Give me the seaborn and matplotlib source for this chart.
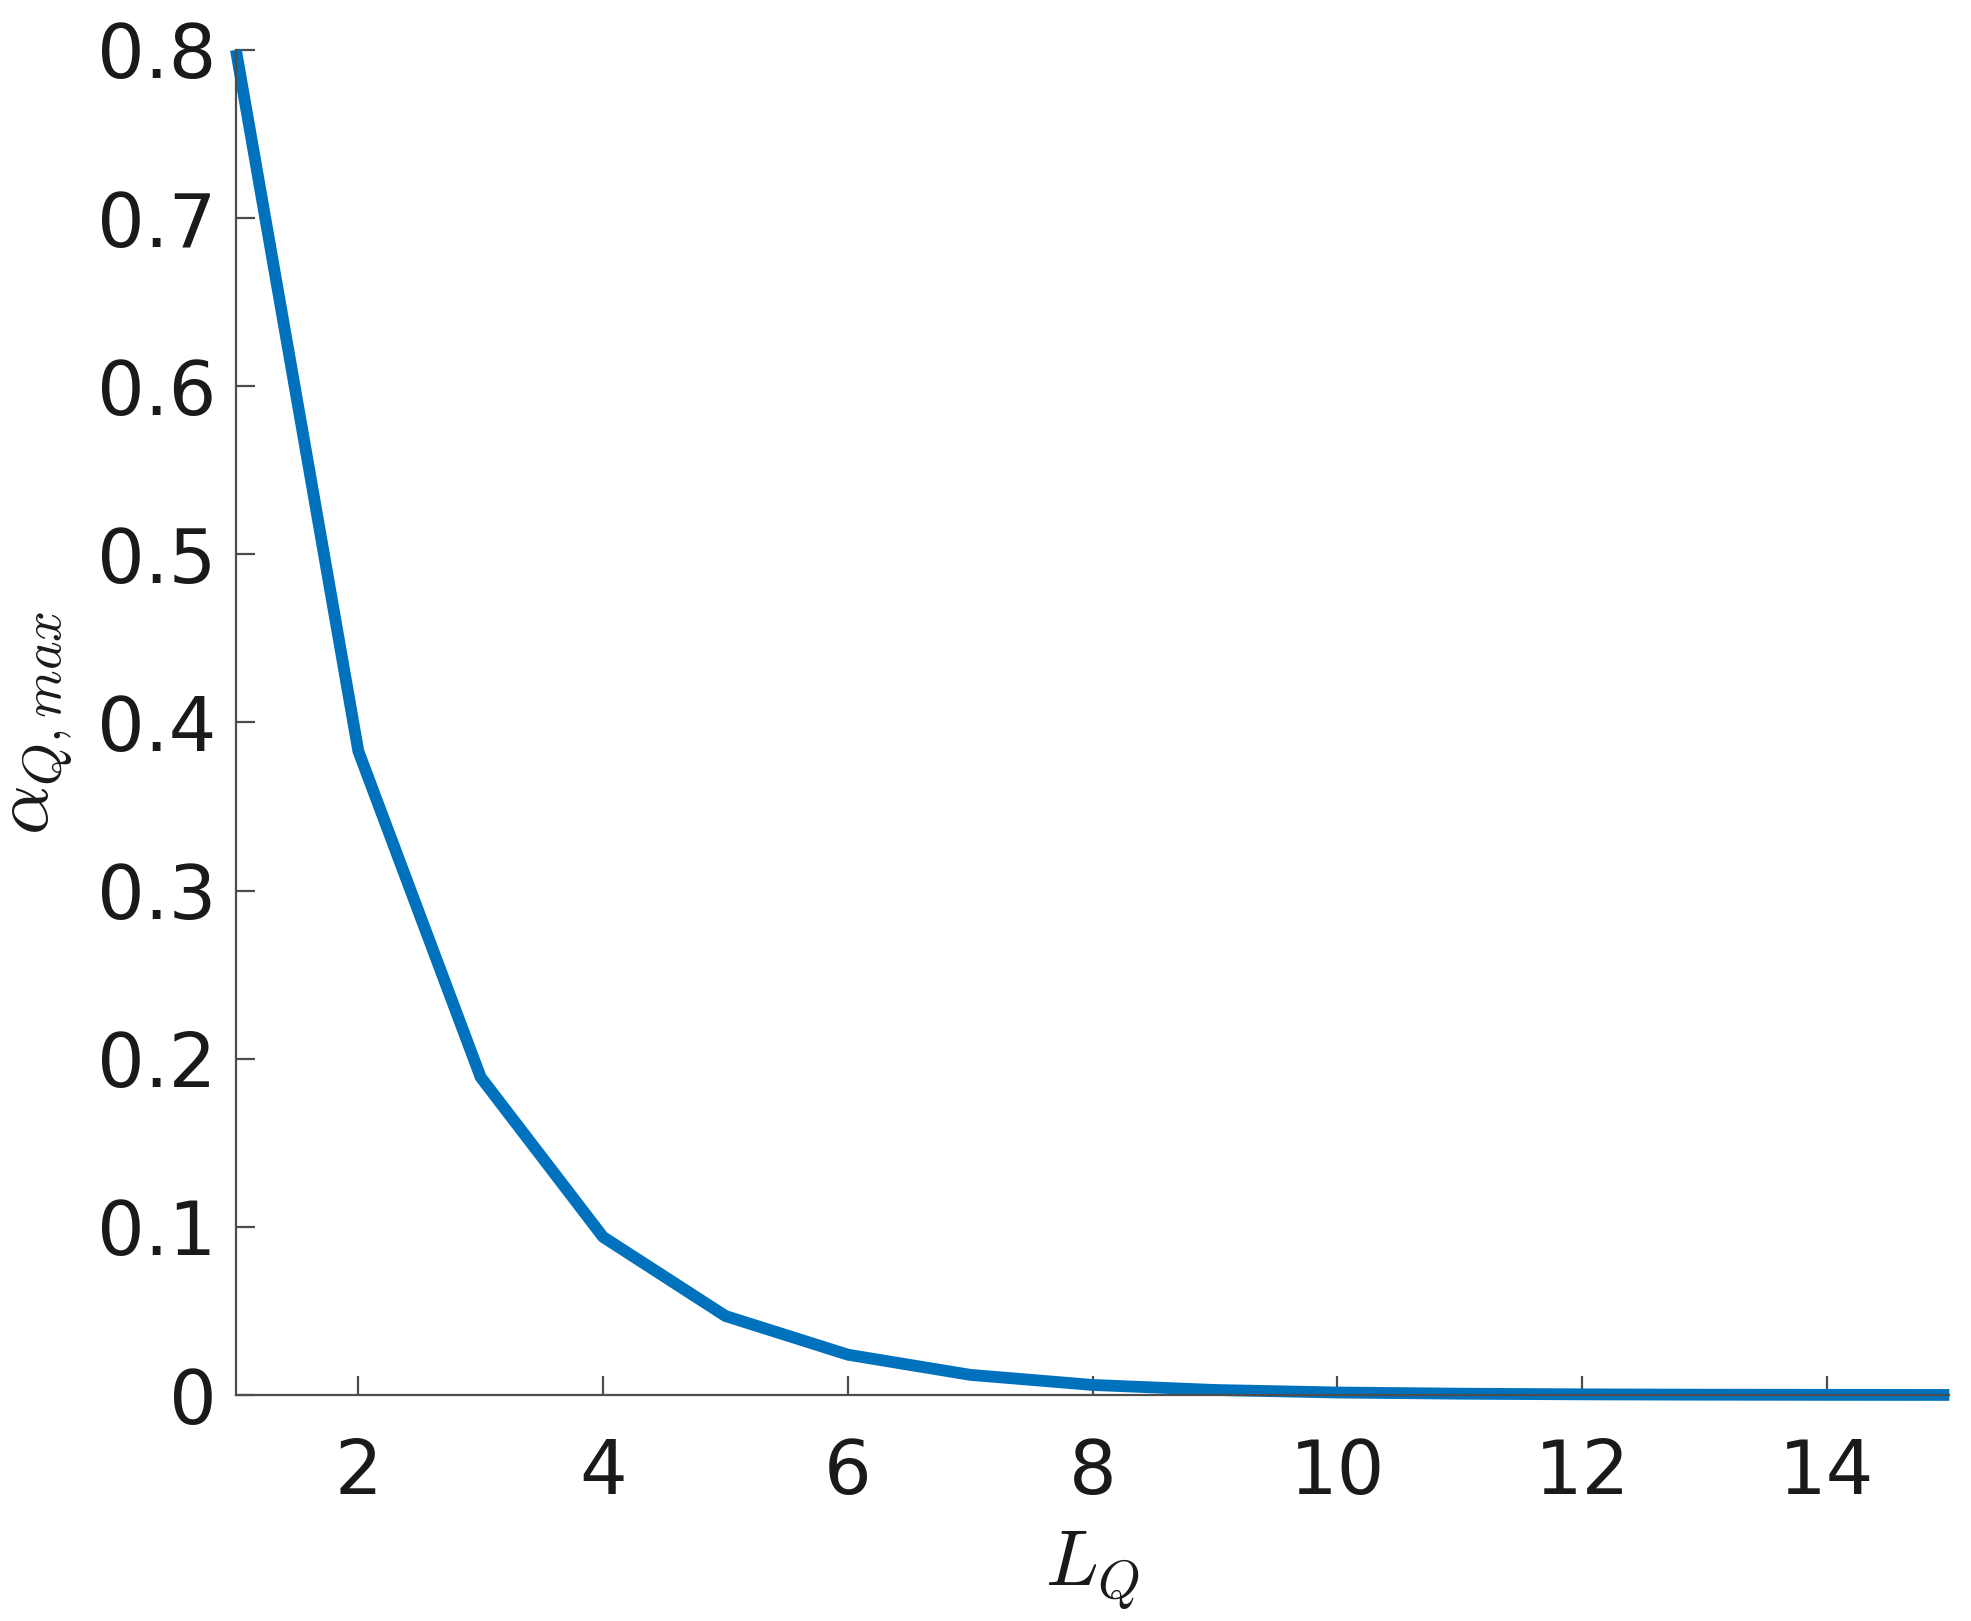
import pandas as pd
import seaborn as sns
import matplotlib.pyplot as plt

# values
L_Q = [1, 2, 3, 4, 5, 6, 7, 8, 9, 10, 11, 12, 13, 14, 15]
alpha_max = [0.8, 0.383, 0.189, 0.094, 0.047, 0.024, 0.012, 0.006,
             0.003, 0.0015, 0.0008, 0.0004, 0.0002, 0.0001, 0.00005]
x_ticks = [2, 4, 6, 8, 10, 12, 14]
y_ticks = [0, 0.1, 0.2, 0.3, 0.4, 0.5, 0.6, 0.7, 0.8]

df = pd.DataFrame({'L_Q': L_Q, 'alpha': alpha_max})

sns.set_style('ticks')
plt.rcParams['font.family'] = ['DejaVu Sans']
plt.rcParams['mathtext.fontset'] = 'cm'

fig = plt.figure(figsize=(19.71, 16.21), dpi=100)
ax = fig.add_axes([0.1197, 0.1394, 0.8693, 0.8298])

sns.lineplot(data=df, x='L_Q', y='alpha', color='#0072BD', linewidth=8.5,
             ax=ax, clip_on=False, solid_capstyle='butt')

ax.set_xlim(1, 15)
ax.set_ylim(0, 0.8)
ax.set_xticks(x_ticks)
ax.set_yticks(y_ticks)
ax.set_yticklabels(['0', '0.1', '0.2', '0.3', '0.4', '0.5', '0.6', '0.7', '0.8'])

sns.despine(ax=ax)
for s in ['left', 'bottom']:
    ax.spines[s].set_color('#4d4d4d')
    ax.spines[s].set_linewidth(1.6)

ax.tick_params(axis='both', direction='in', length=14, width=1.6,
               color='#4d4d4d', labelsize=54, labelcolor='#1a1a1a', pad=14)
ax.tick_params(axis='x', pad=30)

ax.set_xlabel(r'$L_Q$', fontsize=56, color='#1a1a1a', labelpad=14)
ax.set_ylabel(r'$\alpha_{Q,max}$', fontsize=56, color='#1a1a1a', labelpad=16)

fig.savefig('out.png', dpi=100)
